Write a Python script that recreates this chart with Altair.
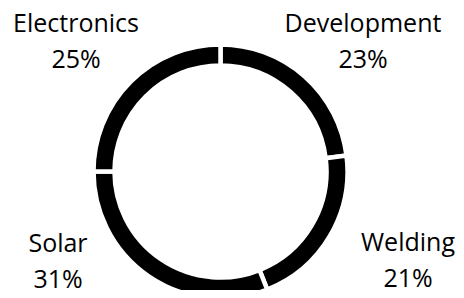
import altair as alt
import pandas as pd

categories = ["Development", "Welding", "Solar", "Electronics"]
shares = [23, 21, 31, 25]

# label layout (view pixels): anchor of the name's baseline for each label
label_x = [355, 400, 50, 68]
label_y = [24, 243, 244, 24]
line_gap = 36

df = pd.DataFrame({
    "category": categories,
    "share": shares,
    "order": list(range(len(categories))),
})
df["pct"] = [f"{s}%" for s in shares]
df["lx"] = label_x
df["ly"] = label_y
df["ly2"] = [y + line_gap for y in label_y]

cx, cy = 212.5, 163.5

ring = alt.Chart(df).mark_arc(
    innerRadius=106, outerRadius=127, stroke="white", strokeWidth=4.5, color="black"
).encode(
    theta=alt.Theta("share:Q", stack=True),
    order=alt.Order("order:O"),
    x=alt.value(cx),
    y=alt.value(cy),
)

text_style = dict(font="Open Sans", fontSize=25, color="black", align="center",
                  baseline="alphabetic")

names = alt.Chart(df).mark_text(**text_style).encode(
    x=alt.X("lx:Q", scale=None),
    y=alt.Y("ly:Q", scale=None),
    text="category:N",
)

pcts = alt.Chart(df).mark_text(**text_style).encode(
    x=alt.X("lx:Q", scale=None),
    y=alt.Y("ly2:Q", scale=None),
    text="pct:N",
)

chart = alt.layer(ring, names, pcts).properties(
    width=448, height=282, padding=0, autosize=alt.AutoSizeParams(type="none")
).configure_view(stroke=None)

chart.save("out.html", embed_options={"renderer": "svg", "actions": False})
